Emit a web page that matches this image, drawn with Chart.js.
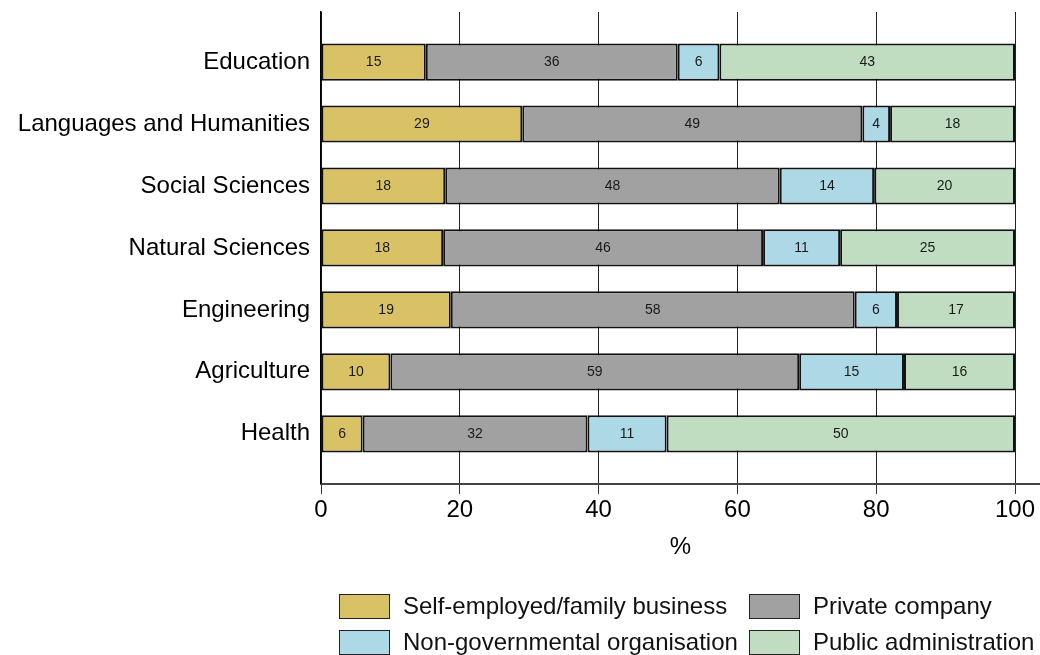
<!doctype html>
<html lang="en">
<head>
<meta charset="utf-8">
<title>Employment sector by field of study</title>
<style>
  body { margin: 0; background: #fff; font-family: "Liberation Sans", Arial, sans-serif; }
  #wrap { position: relative; width: 1040px; height: 655px; }
  #legend { position: absolute; left: 339px; top: 593px; display: grid;
            grid-template-columns: 410px auto; row-gap: 10px; font-size: 24px; color: #111; }
  .item { display: flex; align-items: center; height: 26px; white-space: nowrap; }
  .box { width: 49px; height: 23px; border: 1.5px solid #222; margin-right: 13px; }
</style>
</head>
<body>
<div id="wrap">
  <canvas id="myChart" width="1040" height="655"></canvas>
  <div id="legend"></div>
</div>
<script src="https://cdn.jsdelivr.net/npm/chart.js"></script>
<script>
// fields of study, top to bottom
var categories = ['Education', 'Languages and Humanities', 'Social Sciences', 'Natural Sciences',
                  'Engineering', 'Agriculture', 'Health'];
var sectors = ['Self-employed/family business', 'Private company',
               'Non-governmental organisation', 'Public administration'];
// share of graduates (%) per sector
var selfEmployed   = [15.1, 29.0, 17.9, 17.6, 18.7, 10.0, 6.0];
var privateCompany = [36.3, 49.0, 48.2, 46.1, 58.2, 58.9, 32.4];
var ngo            = [6.0, 4.0, 13.6, 11.1, 6.1, 15.1, 11.4];
var publicAdmin    = [42.6, 18.0, 20.3, 25.2, 17.0, 16.0, 50.2];
var xTicks = [0, 20, 40, 60, 80, 100];

var colors = ['#d9c266', '#a1a1a1', '#add8e6', '#c1ddc1'];
var series = [selfEmployed, privateCompany, ngo, publicAdmin];
var FONT = '"Liberation Sans", Arial, sans-serif';

// value labels in the middle of each segment
var segmentLabels = {
  id: 'segmentLabels',
  afterDatasetsDraw: function(chart) {
    var ctx = chart.ctx;
    ctx.save();
    ctx.font = '14px ' + FONT;
    ctx.fillStyle = '#1a1a1a';
    ctx.textAlign = 'center';
    ctx.textBaseline = 'middle';
    chart.data.datasets.forEach(function(ds, di) {
      chart.getDatasetMeta(di).data.forEach(function(bar, i) {
        ctx.fillText(Math.round(ds.data[i].x), (bar.x + bar.base) / 2, bar.y);
      });
    });
    ctx.restore();
  }
};

var ctx = document.getElementById('myChart').getContext('2d');
var chart = new Chart(ctx, {
  type: 'bar',
  data: {
    datasets: series.map(function(vals, k) {
      return {
        label: sectors[k],
        data: vals.map(function(v, i) { return {x: v, y: i}; }),
        backgroundColor: colors[k],
        borderColor: '#111',
        borderWidth: 2,
        borderSkipped: false,
        categoryPercentage: 0.6,
        barPercentage: 1.0
      };
    })
  },
  options: {
    responsive: false,
    animation: false,
    indexAxis: 'y',
    layout: { padding: { top: 12, left: 0, right: 0, bottom: 93 } },
    plugins: { legend: { display: false }, tooltip: { enabled: false } },
    scales: {
      x: {
        type: 'linear', stacked: true, min: 0, max: 103.6,
        afterBuildTicks: function(scale) {
          scale.ticks = xTicks.map(function(v) { return {value: v}; });
        },
        ticks: { font: { size: 24, family: FONT }, color: '#000', padding: 2 },
        grid: { color: '#222', lineWidth: 1, tickLength: 10, tickColor: '#333' },
        border: { color: '#444', width: 2 },
        title: { display: true, text: '%', font: { size: 24, family: FONT }, color: '#000',
                 padding: { top: 6.5, bottom: 0 } }
      },
      y: {
        type: 'linear', stacked: true, reverse: true, offset: false,
        min: -0.808, max: 6.808,
        afterBuildTicks: function(scale) {
          scale.ticks = categories.map(function(c, i) { return {value: i}; });
        },
        afterFit: function(scale) {
          scale.width = 321;
          scale.paddingTop = 0;
          scale.paddingBottom = 0;
        },
        ticks: {
          font: { size: 24, family: FONT }, color: '#000', padding: 11,
          callback: function(v) { return categories[v]; }
        },
        grid: { display: false, drawTicks: false, offset: false },
        border: { display: true, color: '#000', width: 1.5 }
      }
    }
  },
  plugins: [segmentLabels]
});

// two-column legend under the chart
var legend = document.getElementById('legend');
sectors.forEach(function(name, k) {
  var item = document.createElement('div');
  item.className = 'item';
  item.innerHTML = '<span class="box" style="background:' + colors[k] + '"></span>' + name;
  legend.appendChild(item);
});
</script>
</body>
</html>
